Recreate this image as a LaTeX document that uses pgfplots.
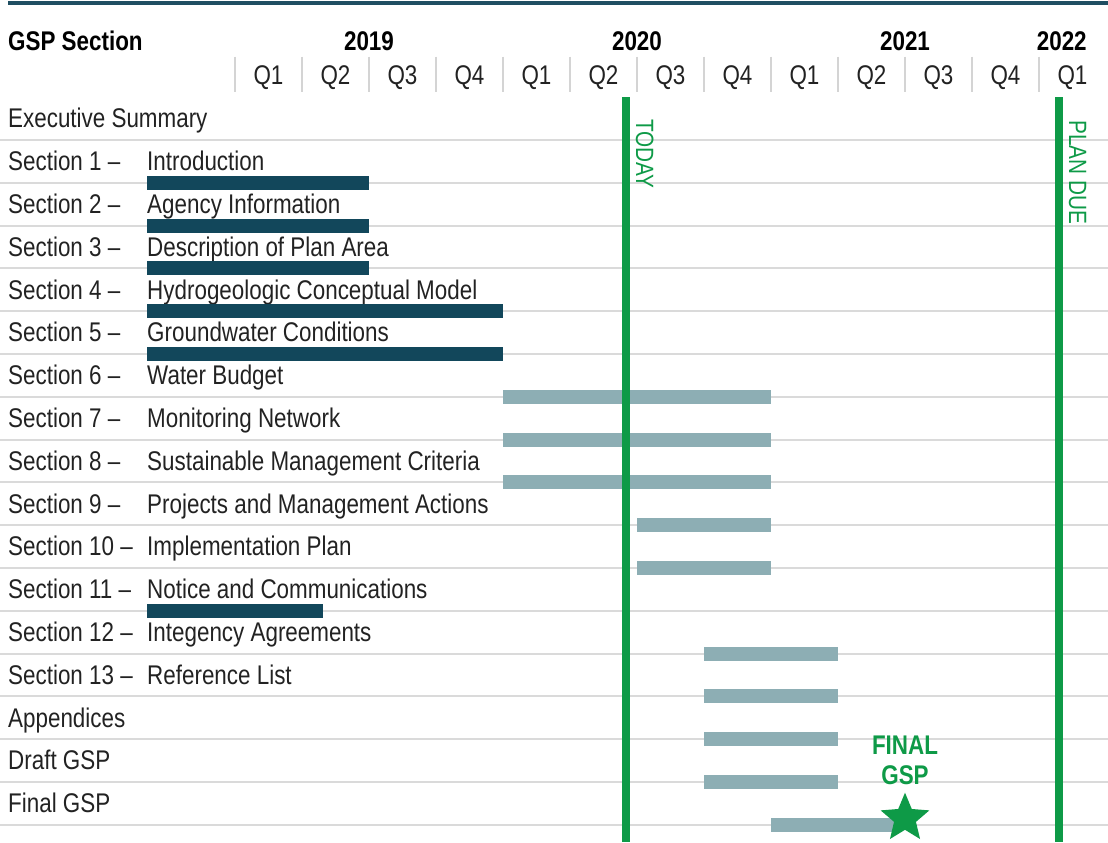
\documentclass[border=0pt]{standalone}
\usepackage{fontspec}
\setmainfont{Liberation Sans}[FakeStretch=0.83]
\usepackage{pgfplots}
\pgfplotsset{compat=1.18}
\definecolor{darkbar}{HTML}{12475B}
\definecolor{lightbar}{HTML}{8DAEB4}
\definecolor{gsgreen}{HTML}{0E9A47}
\definecolor{navy}{HTML}{1F4E62}
\definecolor{gridc}{HTML}{DADADA}
\definecolor{sepc}{HTML}{D4D4D4}
\definecolor{txtc}{HTML}{222222}
\tikzset{
  lab/.style={font=\fontsize{27}{30}\selectfont, text=txtc, anchor=base west, inner sep=0pt},
  hdr/.style={font=\fontsize{27}{30}\selectfont\bfseries, text=black, anchor=base, inner sep=0pt},
  qlab/.style={font=\fontsize{27}{30}\selectfont, text=txtc, anchor=base, inner sep=0pt},
}
\pgfdeclareplotmark{fstar}{%
  \pgfpathmoveto{\pgfpointpolar{90}{\pgfplotmarksize}}%
  \pgfpathlineto{\pgfpointpolar{126}{0.45\pgfplotmarksize}}%
  \pgfpathlineto{\pgfpointpolar{162}{\pgfplotmarksize}}%
  \pgfpathlineto{\pgfpointpolar{198}{0.45\pgfplotmarksize}}%
  \pgfpathlineto{\pgfpointpolar{234}{\pgfplotmarksize}}%
  \pgfpathlineto{\pgfpointpolar{270}{0.45\pgfplotmarksize}}%
  \pgfpathlineto{\pgfpointpolar{306}{\pgfplotmarksize}}%
  \pgfpathlineto{\pgfpointpolar{342}{0.45\pgfplotmarksize}}%
  \pgfpathlineto{\pgfpointpolar{18}{\pgfplotmarksize}}%
  \pgfpathlineto{\pgfpointpolar{54}{0.45\pgfplotmarksize}}%
  \pgfpathclose
  \pgfusepathqfill}
\begin{document}
\begin{tikzpicture}
\begin{axis}[
  width=1108pt, height=842pt, scale only axis,
  xmin=-3.5075, xmax=13.0299,
  ymin=-3.2687, ymax=16.4042, y dir=reverse,
  axis line style={draw=none},
  xtick=\empty, ytick=\empty,
  clip=false,
]
% grid lines
\pgfplotsinvokeforeach{0,...,16}{\draw[gridc, line width=2pt] (-3.5075,#1) -- (13.0299,#1);}
% top rule
\draw[navy, line width=4pt] (-3.388,-3.199) -- (13.0299,-3.199);
% header
\node[lab, font=\fontsize{27}{30}\selectfont\bfseries, text=black] at (-3.388,-2.10) {GSP Section};
\node[hdr] at (2,-2.10) {2019};
\node[hdr] at (6,-2.10) {2020};
\node[hdr] at (10,-2.10) {2021};
\node[hdr] at (12.34,-2.10) {2022};
\pgfplotsinvokeforeach{0,...,12}{\draw[sepc, line width=2pt] (#1,-1.944) -- (#1,-1.126);}
\node[qlab] at (0.5,-1.306) {Q1};
\node[qlab] at (1.5,-1.306) {Q2};
\node[qlab] at (2.5,-1.306) {Q3};
\node[qlab] at (3.5,-1.306) {Q4};
\node[qlab] at (4.5,-1.306) {Q1};
\node[qlab] at (5.5,-1.306) {Q2};
\node[qlab] at (6.5,-1.306) {Q3};
\node[qlab] at (7.5,-1.306) {Q4};
\node[qlab] at (8.5,-1.306) {Q1};
\node[qlab] at (9.5,-1.306) {Q2};
\node[qlab] at (10.5,-1.306) {Q3};
\node[qlab] at (11.5,-1.306) {Q4};
\node[qlab] at (12.5,-1.306) {Q1};
% row labels
\node[lab] at (-3.388,-0.28) {Executive Summary};
\node[lab] at (-3.388,0.72) {Section 1 –};   \node[lab] at (-1.313,0.72) {Introduction};
\node[lab] at (-3.388,1.72) {Section 2 –};   \node[lab] at (-1.313,1.72) {Agency Information};
\node[lab] at (-3.388,2.72) {Section 3 –};   \node[lab] at (-1.313,2.72) {Description of Plan Area};
\node[lab] at (-3.388,3.72) {Section 4 –};   \node[lab] at (-1.313,3.72) {Hydrogeologic Conceptual Model};
\node[lab] at (-3.388,4.72) {Section 5 –};   \node[lab] at (-1.313,4.72) {Groundwater Conditions};
\node[lab] at (-3.388,5.72) {Section 6 –};   \node[lab] at (-1.313,5.72) {Water Budget};
\node[lab] at (-3.388,6.72) {Section 7 –};   \node[lab] at (-1.313,6.72) {Monitoring Network};
\node[lab] at (-3.388,7.72) {Section 8 –};   \node[lab] at (-1.313,7.72) {Sustainable Management Criteria};
\node[lab] at (-3.388,8.72) {Section 9 –};   \node[lab] at (-1.313,8.72) {Projects and Management Actions};
\node[lab] at (-3.388,9.72) {Section 10 –};  \node[lab] at (-1.313,9.72) {Implementation Plan};
\node[lab] at (-3.388,10.72) {Section 11 –}; \node[lab] at (-1.313,10.72) {Notice and Communications};
\node[lab] at (-3.388,11.72) {Section 12 –}; \node[lab] at (-1.313,11.72) {Integency Agreements};
\node[lab] at (-3.388,12.72) {Section 13 –}; \node[lab] at (-1.313,12.72) {Reference List};
\node[lab] at (-3.388,13.72) {Appendices};
\node[lab] at (-3.388,14.72) {Draft GSP};
\node[lab] at (-3.388,15.72) {Final GSP};
% dark bars
\addplot[darkbar, line width=14pt] coordinates {(-1.313,1) (2,1)};
\addplot[darkbar, line width=14pt] coordinates {(-1.313,2) (2,2)};
\addplot[darkbar, line width=14pt] coordinates {(-1.313,3) (2,3)};
\addplot[darkbar, line width=14pt] coordinates {(-1.313,4) (4,4)};
\addplot[darkbar, line width=14pt] coordinates {(-1.313,5) (4,5)};
\addplot[darkbar, line width=14pt] coordinates {(-1.313,11) (1.313,11)};
% light bars
\addplot[lightbar, line width=14pt] coordinates {(4,6) (8,6)};
\addplot[lightbar, line width=14pt] coordinates {(4,7) (8,7)};
\addplot[lightbar, line width=14pt] coordinates {(4,8) (8,8)};
\addplot[lightbar, line width=14pt] coordinates {(6,9) (8,9)};
\addplot[lightbar, line width=14pt] coordinates {(6,10) (8,10)};
\addplot[lightbar, line width=14pt] coordinates {(7,12) (9,12)};
\addplot[lightbar, line width=14pt] coordinates {(7,13) (9,13)};
\addplot[lightbar, line width=14pt] coordinates {(7,14) (9,14)};
\addplot[lightbar, line width=14pt] coordinates {(7,15) (9,15)};
\addplot[lightbar, line width=14pt] coordinates {(8,16) (9.9,16)};
% milestone lines
\addplot[gsgreen, line width=8pt] coordinates {(5.843,-1.0) (5.843,16.4042)};
\addplot[gsgreen, line width=8pt] coordinates {(12.299,-1.0) (12.299,16.4042)};
\node[lab, font=\fontsize{25}{28}\selectfont, text=gsgreen, rotate=-90] at (5.985,-0.488) {TODAY};
\node[lab, font=\fontsize{25}{28}\selectfont, text=gsgreen, rotate=-90] at (12.448,-0.464) {PLAN DUE};
% final GSP star
\node[qlab, font=\fontsize{27}{30}\selectfont\bfseries, text=gsgreen] at (10,14.348) {FINAL};
\node[qlab, font=\fontsize{27}{30}\selectfont\bfseries, text=gsgreen] at (10,15.07) {GSP};
\addplot[only marks, mark=fstar, mark size=25.6pt, gsgreen] coordinates {(10,15.85)};
\end{axis}
\pgfresetboundingbox
\path (current axis.south west) rectangle (current axis.north east);
\end{tikzpicture}
\end{document}
